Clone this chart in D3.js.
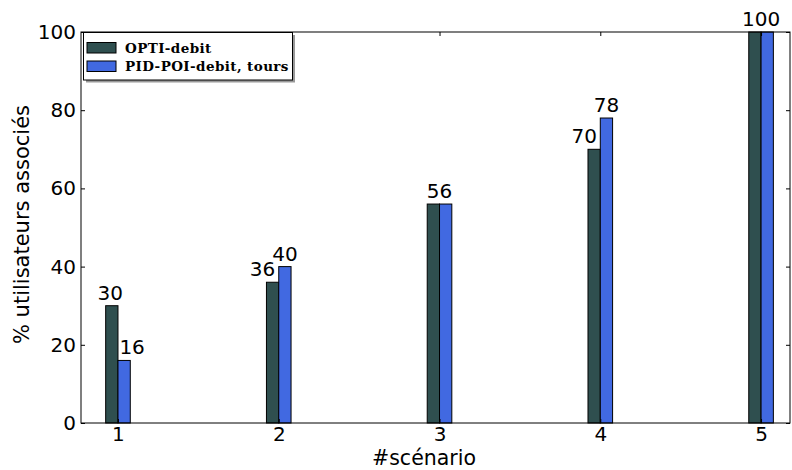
<!DOCTYPE html>
<html>
<head>
<meta charset="utf-8">
<script src="https://cdn.jsdelivr.net/npm/d3@7"></script>
<style>
  html, body { margin: 0; padding: 0; background: #fff; }
  svg { display: block; }
</style>
</head>
<body>
<svg id="chart" width="792" height="470"></svg>
<script>
const categories = [1, 2, 3, 4, 5];
const optiDebit = [30, 36, 56, 70, 100];
const pidPoiDebitTours = [16, 40, 56, 78, 100];
const seriesNames = ["OPTI-debit", "PID-POI-debit, tours"];
const seriesColors = ["#2f4f4f", "#4169e1"];
const yTicks = [0, 20, 40, 60, 80, 100];
const xLabel = "#scénario";
const yLabel = "% utilisateurs associés";

(function () {
const svg = d3.select("#chart");
const mLeft = 81, mRight = 790, mTop = 32, mBottom = 423;
const x = d3.scaleLinear().domain([0.77, 5.18]).range([mLeft, mRight]);
const y = d3.scaleLinear().domain([0, 100]).range([mBottom, mTop]);
const bw = 0.0765;
const font = "DejaVu Sans, sans-serif";

const series = [optiDebit, pidPoiDebitTours];

// bars
series.forEach((vals, si) => {
  svg.append("g").selectAll("rect").data(categories).join("rect")
    .attr("x", (c) => x(si === 0 ? c - bw : c))
    .attr("width", x(bw) - x(0))
    .attr("y", (c, i) => y(vals[i]))
    .attr("height", (c, i) => y(0) - y(vals[i]))
    .attr("fill", seriesColors[si])
    .attr("stroke", "#000")
    .attr("stroke-width", 1);
});

// value labels
const lbl = svg.append("g").attr("font-family", font).attr("font-size", 20).attr("fill", "#000");
categories.forEach((c, i) => {
  const a = optiDebit[i], b = pidPoiDebitTours[i];
  if (a === b) {
    lbl.append("text").attr("x", x(c)).attr("y", y(a) - 6).attr("text-anchor", "middle").text(a);
  } else {
    const cA = x(c - bw / 2), cB = x(c + bw / 2);
    const shift = 9;
    if (a > b) {
      lbl.append("text").attr("x", cA - 1.5).attr("y", y(a) - 6).attr("text-anchor", "middle").text(a);
      lbl.append("text").attr("x", cB + shift - 1).attr("y", y(b) - 6).attr("text-anchor", "middle").text(b);
    } else {
      lbl.append("text").attr("x", cA - shift - 1).attr("y", y(a) - 6).attr("text-anchor", "middle").text(a);
      lbl.append("text").attr("x", cB).attr("y", y(b) - 6).attr("text-anchor", "middle").text(b);
    }
  }
});

// axes frame
svg.append("rect").attr("x", mLeft).attr("y", mTop).attr("width", mRight - mLeft).attr("height", mBottom - mTop)
  .attr("fill", "none").attr("stroke", "#000").attr("stroke-width", 1);

// y axis
const yAxis = d3.axisLeft(y).tickValues(yTicks).tickSizeInner(-4).tickSizeOuter(0).tickPadding(5);
const gy = svg.append("g").attr("transform", `translate(${mLeft},0)`).call(yAxis);
gy.select(".domain").remove();
gy.selectAll("text").attr("font-family", font).attr("font-size", 20).attr("fill", "#000");
const yAxisR = d3.axisRight(y).tickValues(yTicks).tickSizeInner(-4).tickSizeOuter(0).tickFormat("");
const gyr = svg.append("g").attr("transform", `translate(${mRight},0)`).call(yAxisR);
gyr.select(".domain").remove();

// x axis
const xAxis = d3.axisBottom(x).tickValues(categories).tickSizeInner(-4).tickSizeOuter(0).tickPadding(4).tickFormat(d3.format("d"));
const gx = svg.append("g").attr("transform", `translate(0,${mBottom})`).call(xAxis);
gx.select(".domain").remove();
gx.selectAll("text").attr("font-family", font).attr("font-size", 20).attr("fill", "#000");
const xAxisT = d3.axisTop(x).tickValues(categories).tickSizeInner(-4).tickSizeOuter(0).tickFormat("");
const gxt = svg.append("g").attr("transform", `translate(0,${mTop})`).call(xAxisT);
gxt.select(".domain").remove();

// axis labels
svg.append("text").attr("x", 424).attr("y", 465).attr("text-anchor", "middle")
  .attr("font-family", font).attr("font-size", 20.5).text(xLabel);
svg.append("text").attr("transform", `translate(29,${(mTop + mBottom) / 2 - 3}) rotate(-90)`)
  .attr("text-anchor", "middle").attr("font-family", font).attr("font-size", 21).text(yLabel);

// legend
const lg = svg.append("g");
lg.append("rect").attr("x", 86).attr("y", 35).attr("width", 209).attr("height", 47.5).attr("fill", "#999");
lg.append("rect").attr("x", 83.5).attr("y", 32.5).attr("width", 209).attr("height", 47.5)
  .attr("fill", "#fff").attr("stroke", "#000").attr("stroke-width", 1);
seriesNames.forEach((n, i) => {
  const yy = 42.5 + i * 18.5;
  lg.append("rect").attr("x", 87).attr("y", yy).attr("width", 29).attr("height", 10.5)
    .attr("fill", seriesColors[i]).attr("stroke", "#000").attr("stroke-width", 1);
  lg.append("text").attr("x", 125).attr("y", yy + 10).attr("font-family", "DejaVu Serif, serif")
    .attr("font-weight", "bold").attr("font-size", 13.5).attr("letter-spacing", 0.4)
    .attr("fill", "#000").text(n);
});
})();
</script>
</body>
</html>
